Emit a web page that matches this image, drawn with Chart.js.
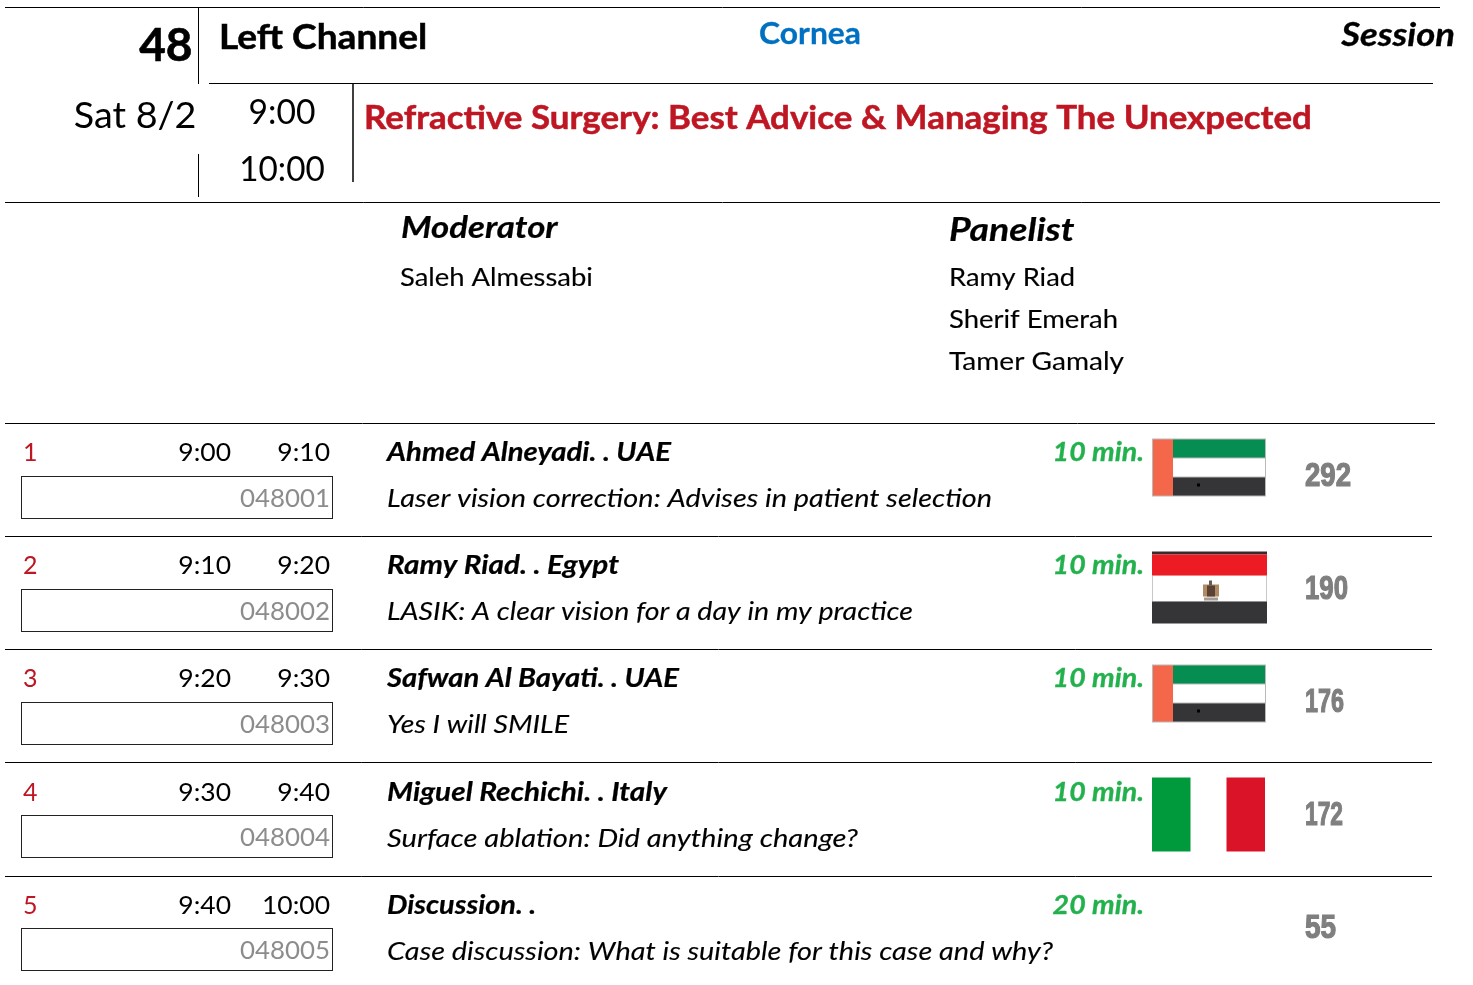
<!DOCTYPE html>
<html>
<head>
<meta charset="utf-8">
<title>Session 48</title>
<script src="https://cdn.jsdelivr.net/npm/chart.js@4"></script>
<style>
  html, body { margin: 0; padding: 0; background: #fff; }
  canvas { display: block; }
</style>
</head>
<body>
<canvas id="chart" width="1473" height="985"></canvas>
<script>
// session header
const sessionNumber = '48'
const channel = 'Left Channel'
const track = 'Cornea'
const sessionLabel = 'Session'
const day = 'Sat 8/2'
const startTime = '9:00'
const endTime = '10:00'
const sessionTitle = 'Refractive Surgery: Best Advice & Managing The Unexpected'
const moderators = ['Saleh Almessabi']
const panelists = ['Ramy Riad', 'Sherif Emerah', 'Tamer Gamaly']

// talks
const talkNumbers = ['1', '2', '3', '4', '5']
const talkStarts = ['9:00', '9:10', '9:20', '9:30', '9:40']
const talkEnds = ['9:10', '9:20', '9:30', '9:40', '10:00']
const speakers = ['Ahmed Alneyadi. . UAE', 'Ramy Riad. . Egypt', 'Safwan Al Bayati. . UAE', 'Miguel Rechichi. . Italy', 'Discussion. .']
const topics = [
  'Laser vision correction: Advises in patient selection',
  'LASIK: A clear vision for a day in my practice',
  'Yes I will SMILE',
  'Surface ablation: Did anything change?',
  'Case discussion: What is suitable for this case and why?',
]
const durations = ['10 min.', '10 min.', '10 min.', '10 min.', '20 min.']
const codes = ['048001', '048002', '048003', '048004', '048005']
const flags = ['uae', 'egypt', 'uae', 'italy', null]
const counts = [292, 190, 176, 172, 55]

// page layout, in picture pixels
const rowTops = [423.5, 536.5, 649.5, 762.5, 876.5]
const rowTextTops = [423.5, 536.5, 649.5, 763.5, 876.5]
const boxTops = [476.5, 589.5, 702.5, 815.5, 928.5]
const countBases = [486, 599, 712, 825, 938]
const speakerWidths = [284, 232, 292, 280, 149]
const topicWidths = [605, 526, 182, 471, 666]
const panelistWidths = [126, 169, 175]
const countWidths = [46, 43, 39, 38, 31]
const BODY = 'Lato, Carlito, sans-serif'
const COUNT_FONT = '"Liberation Sans", sans-serif'

// black rules as [x0, y0, x1, y1, width]
const rules = [
  [5, 7.5, 1440, 7.5, 1],
  [198.5, 8, 198.5, 84, 1],
  [209, 83.5, 1433, 83.5, 1],
  [353, 84, 353, 182, 1.5],
  [198.5, 154, 198.5, 197, 1],
  [5, 202.5, 1440, 202.5, 1],
  [5, 423.5, 1435, 423.5, 1],
  [5, 536.5, 1432, 536.5, 1],
  [5, 649.5, 1432, 649.5, 1],
  [5, 762.5, 1432, 762.5, 1],
  [5, 876.5, 1432, 876.5, 1],
]

const sheetPlugin = {
  id: 'sheet',
  afterDatasetsDraw(chart) {
    const { ctx, scales } = chart
    const px = (v) => scales.x.getPixelForValue(v)
    const py = (v) => scales.y.getPixelForValue(v)

    // the reference font runs wider than Lato, so stretch per text class
    // opts: align, stretch, width (fit to that width), heft (extra stroke)
    const text = (str, x, y, font, color, opts = {}) => {
      ctx.save()
      ctx.font = font
      ctx.fillStyle = color
      ctx.strokeStyle = color
      ctx.textAlign = opts.align || 'left'
      ctx.textBaseline = 'alphabetic'
      const stretch = opts.width ? opts.width / ctx.measureText(str).width : opts.stretch || 1
      ctx.translate(px(x), py(y))
      ctx.scale(stretch, 1)
      if (opts.heft) {
        ctx.lineWidth = opts.heft
        ctx.strokeText(str, 0, 0)
      }
      ctx.fillText(str, 0, 0)
      ctx.restore()
    }
    const rect = (x0, y0, x1, y1, color) => {
      ctx.fillStyle = color
      ctx.fillRect(px(x0), py(y0), px(x1) - px(x0), py(y1) - py(y0))
    }

    const drawUae = (top) => {
      rect(1152, top, 1266, top + 58, '#b9b9b9')
      rect(1173, top + 1, 1265, top + 19, '#068d51')
      rect(1173, top + 20, 1265, top + 38, '#ffffff')
      rect(1173, top + 39, 1265, top + 57, '#353436')
      rect(1153, top + 1, 1173, top + 57, '#f4674a')
      rect(1197, top + 45, 1200, top + 48, '#000000')
    }
    const drawEgypt = (top) => {
      rect(1152, top + 24, 1267, top + 50, '#c8c8c8')
      rect(1153, top + 24, 1266, top + 50, '#ffffff')
      rect(1152, top, 1267, top + 3, '#3a2a2c')
      rect(1152, top + 3, 1267, top + 24, '#ed1c24')
      rect(1152, top + 50, 1267, top + 72, '#353436')
      // eagle
      rect(1203, top + 33, 1219, top + 45, '#b08a62')
      rect(1207, top + 34, 1215, top + 45, '#5a4335')
      rect(1209, top + 29, 1212, top + 34, '#6a5a50')
      rect(1204, top + 46, 1218, top + 49, '#a59c94')
    }
    const drawItaly = (top) => {
      rect(1152, top, 1190.5, top + 74, '#009a3d')
      rect(1226.5, top, 1265, top + 74, '#da1329')
    }

    ctx.save()

    // header
    text(sessionNumber, 192.5, 61, '700 46px ' + BODY, '#000', { align: 'right', heft: 0.6 })
    text(channel, 219, 49, '700 35px ' + BODY, '#000', { stretch: 1.06, heft: 0.5 })
    text(track, 810, 44, '700 30px ' + BODY, '#0070c0', { align: 'center', stretch: 1.06, heft: 0.3 })
    text(sessionLabel, 1455, 46, 'italic 700 32px ' + BODY, '#000', { align: 'right', stretch: 1.14, heft: 0.3 })
    text(day, 196.5, 128, '37px ' + BODY, '#000', { align: 'right', stretch: 1.02 })
    text(startTime, 282, 124, '35px ' + BODY, '#000', { align: 'center', stretch: 0.96 })
    text(endTime, 282, 181, '35px ' + BODY, '#000', { align: 'center', stretch: 0.95 })
    text(sessionTitle, 364, 129, '700 33px ' + BODY, '#be1622', { stretch: 1.058, heft: 0.5 })

    // moderator and panel
    text('Moderator', 401, 238, 'italic 700 30px ' + BODY, '#000', { stretch: 1.16, heft: 0.2 })
    text('Panelist', 949, 241, 'italic 700 32px ' + BODY, '#000', { stretch: 1.17, heft: 0.2 })
    moderators.forEach((name, i) => text(name, 400, 286 + i * 42, '25px ' + BODY, '#000', { stretch: 1.097, heft: 0.15 }))
    panelists.forEach((name, i) => text(name, 949, 286 + i * 42, '25px ' + BODY, '#000', { width: panelistWidths[i], heft: 0.15 }))

    // talk rows
    rowTops.forEach((top, i) => {
      const textTop = rowTextTops[i]
      const base = textTop + 37.5
      const sub = textTop + 83.5
      text(talkNumbers[i], 23, base, '25px ' + BODY, '#be1622')
      text(talkStarts[i], 231, base, '25px ' + BODY, '#000', { align: 'right', stretch: 1.06 })
      text(talkEnds[i], 330, base, '25px ' + BODY, '#000', { align: 'right', stretch: 1.06 })
      ctx.strokeStyle = '#222'
      ctx.lineWidth = 1
      ctx.strokeRect(px(21.5), py(boxTops[i]), px(332.5) - px(21.5), py(boxTops[i] + 42) - py(boxTops[i]))
      text(codes[i], 330, boxTops[i] + 30.5, '25px ' + BODY, '#8c8c8c', { align: 'right', stretch: 1.035 })
      text(speakers[i], 387, base, 'italic 700 26px ' + BODY, '#000', { width: speakerWidths[i], heft: 0.2 })
      text(topics[i], 387, sub, 'italic 25px ' + BODY, '#000', { width: topicWidths[i], heft: 0.1 })
      text(durations[i], 1144, base, 'italic 700 26px ' + BODY, '#22b14c', { align: 'right', stretch: 1.1, heft: 0.3 })

      ctx.save()
      ctx.filter = 'blur(0.5px)'
      if (flags[i] === 'uae') drawUae(top + 15)
      if (flags[i] === 'egypt') drawEgypt(top + 15)
      if (flags[i] === 'italy') drawItaly(top + 15)
      ctx.restore()

      // condensed heavy numerals, squeezed to the width
      text(String(counts[i]), 1305, countBases[i], '700 33px ' + COUNT_FONT, '#7f7f7f', { width: countWidths[i], heft: 1.2 })
    })

    ctx.restore()
  },
}

new Chart(document.getElementById('chart').getContext('2d'), {
  type: 'scatter',
  data: {
    datasets: rules.map((r) => ({
      data: [{ x: r[0], y: r[1] }, { x: r[2], y: r[3] }],
      showLine: true,
      borderColor: '#000',
      borderWidth: r[4],
      pointRadius: 0,
    })),
  },
  options: {
    responsive: false,
    animation: false,
    events: [],
    layout: { padding: 0 },
    plugins: { legend: { display: false }, tooltip: { enabled: false }, title: { display: false } },
    scales: {
      x: { type: 'linear', display: false, min: 0, max: 1473 },
      y: { type: 'linear', display: false, min: 0, max: 985, reverse: true },
    },
  },
  plugins: [sheetPlugin],
})
</script>
</body>
</html>
